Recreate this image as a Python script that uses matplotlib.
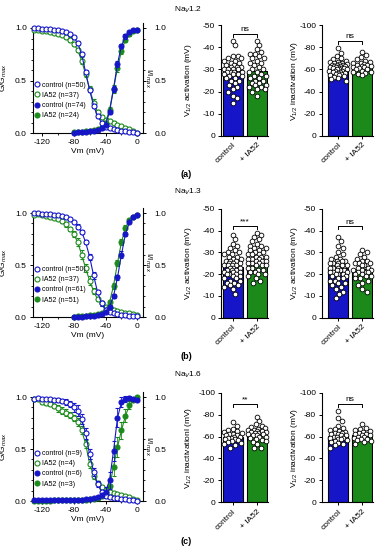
import matplotlib
matplotlib.use("Agg")
import matplotlib.pyplot as plt
from matplotlib.lines import Line2D
from matplotlib.ticker import MultipleLocator
import numpy as np

plt.rcParams['font.family'] = ['Liberation Sans', 'DejaVu Sans']
plt.rcParams['axes.unicode_minus'] = False
plt.rcParams['mathtext.fontset'] = 'custom'
plt.rcParams['mathtext.rm'] = 'Liberation Sans'
plt.rcParams['mathtext.it'] = 'Liberation Sans:italic'

BLUE = '#1616c8'
GREEN = '#1b8a1b'

# ---------------- data: voltage protocols ----------------
V_inact = [-130, -125, -120, -115, -110, -105, -100, -95, -90, -85, -80, -75, -70, -65,
           -60, -55, -50, -45, -40, -35, -30, -25, -20, -15, -10, -5, 0]
V_act80 = [-80, -75, -70, -65, -60, -55, -50, -45, -40, -35, -30, -25, -20, -15, -10, -5, 0]
V_act130 = V_inact

# ---------------- NaV1.2 ----------------
a_inact_ctrl = [1.00, 1.00, 0.99, 0.99, 0.99, 0.98, 0.98, 0.97, 0.96, 0.94, 0.91, 0.86, 0.75, 0.58,
                0.41, 0.26, 0.16, 0.10, 0.06, 0.05, 0.04, 0.03, 0.02, 0.02, 0.01, 0.01, 0.00]
a_inact_ctrl_err = [0, 0, 0, 0, 0, 0, 0, 0, 0.01, 0.01, 0.01, 0.02, 0.02, 0.02, 0.02, 0.02, 0.02,
                    0.01, 0.01, 0.01, 0.01, 0.01, 0, 0, 0, 0, 0]
a_inact_ia52 = [0.98, 0.98, 0.97, 0.97, 0.96, 0.95, 0.94, 0.93, 0.91, 0.89, 0.85, 0.79, 0.69, 0.56,
                0.42, 0.29, 0.20, 0.15, 0.12, 0.11, 0.10, 0.08, 0.07, 0.05, 0.04, 0.02, 0.00]
a_inact_ia52_err = [0, 0, 0.01, 0.01, 0.01, 0.01, 0.01, 0.01, 0.01, 0.02, 0.02, 0.02, 0.03, 0.03,
                    0.03, 0.03, 0.02, 0.02, 0.02, 0.01, 0.01, 0.01, 0.01, 0.01, 0.01, 0, 0]
a_act_ctrl = [0.00, 0.01, 0.01, 0.01, 0.02, 0.02, 0.03, 0.05, 0.08, 0.20, 0.42, 0.66, 0.83, 0.92,
              0.96, 0.98, 0.98]
a_act_ctrl_err = [0, 0, 0, 0, 0, 0, 0.01, 0.01, 0.01, 0.02, 0.03, 0.03, 0.02, 0.02, 0.01, 0.01, 0]
a_act_ia52 = [0.01, 0.01, 0.01, 0.02, 0.02, 0.03, 0.04, 0.06, 0.10, 0.22, 0.42, 0.62, 0.78, 0.89,
              0.94, 0.97, 0.98]
a_act_ia52_err = [0, 0, 0, 0, 0, 0.01, 0.01, 0.01, 0.02, 0.03, 0.04, 0.04, 0.03, 0.02, 0.02, 0.01, 0]
a_labels = ['control (n=50)', 'IA52 (n=37)', 'control (n=74)', 'IA52 (n=24)']

# ---------------- NaV1.3 ----------------
b_inact_ctrl = [1.00, 1.00, 0.99, 0.99, 0.99, 0.98, 0.98, 0.97, 0.96, 0.94, 0.91, 0.87, 0.82, 0.72,
                0.58, 0.40, 0.24, 0.13, 0.07, 0.05, 0.04, 0.03, 0.02, 0.02, 0.01, 0.01, 0.01]
b_inact_ctrl_err = [0, 0, 0, 0, 0, 0, 0, 0.01, 0.01, 0.01, 0.01, 0.02, 0.02, 0.02, 0.03, 0.03,
                    0.02, 0.02, 0.01, 0.01, 0.01, 0, 0, 0, 0, 0, 0]
b_inact_ia52 = [0.98, 0.99, 0.98, 0.97, 0.96, 0.95, 0.94, 0.92, 0.89, 0.85, 0.80, 0.72, 0.60, 0.47,
                0.35, 0.25, 0.17, 0.13, 0.10, 0.09, 0.07, 0.06, 0.05, 0.04, 0.04, 0.03, 0.02]
b_inact_ia52_err = [0, 0, 0.01, 0.01, 0.01, 0.01, 0.01, 0.02, 0.02, 0.02, 0.03, 0.04, 0.04, 0.04,
                    0.04, 0.03, 0.02, 0.02, 0.01, 0.01, 0.01, 0.01, 0.01, 0.01, 0, 0, 0]
b_act_ctrl = [0.00, 0.00, 0.00, 0.01, 0.01, 0.01, 0.02, 0.03, 0.05, 0.10, 0.20, 0.38, 0.60, 0.80,
              0.91, 0.96, 0.98]
b_act_ctrl_err = [0, 0, 0, 0, 0, 0, 0, 0.01, 0.01, 0.01, 0.02, 0.02, 0.03, 0.02, 0.01, 0.01, 0]
b_act_ia52 = [0.00, 0.01, 0.01, 0.01, 0.02, 0.02, 0.03, 0.04, 0.07, 0.14, 0.30, 0.52, 0.72, 0.86,
              0.93, 0.96, 0.98]
b_act_ia52_err = [0, 0, 0, 0, 0, 0, 0.01, 0.01, 0.01, 0.02, 0.03, 0.03, 0.03, 0.02, 0.01, 0.01, 0]
b_labels = ['control (n=50)', 'IA52 (n=37)', 'control (n=61)', 'IA52 (n=51)']

# ---------------- NaV1.6 ----------------
c_inact_ctrl = [0.98, 0.99, 0.98, 0.98, 0.98, 0.97, 0.97, 0.96, 0.95, 0.93, 0.90, 0.87, 0.79, 0.65,
                0.45, 0.28, 0.16, 0.09, 0.05, 0.04, 0.03, 0.03, 0.02, 0.02, 0.01, 0.01, 0.00]
c_inact_ctrl_err = [0.01, 0.01, 0.01, 0.01, 0.01, 0.02, 0.02, 0.02, 0.03, 0.03, 0.04, 0.05, 0.05,
                    0.05, 0.05, 0.04, 0.03, 0.02, 0.02, 0.01, 0.01, 0.01, 0.01, 0.01, 0.01, 0.01, 0]
c_inact_ia52 = [0.98, 0.98, 0.95, 0.94, 0.93, 0.91, 0.89, 0.87, 0.85, 0.83, 0.80, 0.76, 0.68, 0.55,
                0.36, 0.24, 0.17, 0.13, 0.11, 0.09, 0.08, 0.07, 0.06, 0.05, 0.04, 0.02, 0.01]
c_inact_ia52_err = [0.01, 0.01, 0.02, 0.02, 0.02, 0.02, 0.03, 0.03, 0.03, 0.03, 0.03, 0.04, 0.04,
                    0.04, 0.04, 0.03, 0.02, 0.02, 0.02, 0.01, 0.01, 0.01, 0.01, 0.01, 0.01, 0.01, 0]
c_act_ctrl = [0.01, 0.01, 0.01, 0.01, 0.01, 0.01, 0.01, 0.01, 0.01, 0.01, 0.01, 0.01, 0.01, 0.02,
              0.02, 0.03, 0.04, 0.06, 0.09, 0.20, 0.48, 0.80, 0.95, 0.98, 0.99, 0.98, 0.97]
c_act_ctrl_err = [0.01, 0.01, 0.01, 0.01, 0.01, 0.01, 0.01, 0.01, 0.01, 0.01, 0.01, 0.01, 0.01,
                  0.01, 0.01, 0.01, 0.01, 0.02, 0.04, 0.08, 0.10, 0.09, 0.05, 0.03, 0.02, 0.01, 0.01]
c_act_ia52 = [0.00, 0.00, 0.00, 0.00, 0.00, 0.01, 0.01, 0.01, 0.01, 0.01, 0.01, 0.01, 0.01, 0.01,
              0.02, 0.02, 0.03, 0.05, 0.08, 0.14, 0.33, 0.52, 0.68, 0.82, 0.92, 0.97, 1.00]
c_act_ia52_err = [0.01, 0.01, 0.01, 0.01, 0.01, 0.01, 0.01, 0.01, 0.01, 0.01, 0.01, 0.01, 0.01,
                  0.01, 0.01, 0.01, 0.01, 0.02, 0.04, 0.06, 0.09, 0.10, 0.08, 0.06, 0.04, 0.02, 0.01]
c_labels = ['control (n=9)', 'IA52 (n=4)', 'control (n=6)', 'IA52 (n=3)']

# ---------------- bar panels (V1/2 values, mV) ----------------
bar_categories = ['control', '+ IA52']

a1_means = [-29.8, -29.1]
a1_sems = [0.8, 1.0]
a1_ctrl = [-43, -41, -36, -36, -35, -35, -34, -34, -33, -33, -32, -32, -31, -31, -31, -30, -30, -30,
           -30, -29, -29, -29, -29, -28, -28, -28, -27, -27, -26, -26, -25, -25, -24, -23, -22, -21,
           -20, -18, -17, -15]
a1_ia52 = [-43, -41, -39, -38, -37, -37, -36, -35, -35, -34, -33, -33, -32, -31, -30, -30, -29, -29,
           -28, -27, -27, -26, -26, -25, -25, -24, -24, -23, -23, -22, -22, -21, -21, -20, -18]

a2_means = [-62.5, -62.8]
a2_sems = [0.8, 0.9]
a2_ctrl = [-79, -75, -72, -70, -69, -68, -67, -67, -66, -66, -65, -65, -64, -64, -64, -63, -63, -63,
           -62, -62, -62, -61, -61, -61, -60, -60, -60, -59, -59, -59, -58, -58, -57, -57, -56, -56,
           -55, -55, -54, -53, -52, -51, -50]
a2_ia52 = [-76, -73, -71, -69, -68, -67, -66, -66, -65, -64, -64, -63, -63, -62, -62, -61, -60, -60,
           -59, -58, -58, -57, -56, -55]

b1_means = [-23.2, -26.5]
b1_sems = [0.8, 0.8]
b1_ctrl = [-38, -36, -34, -33, -32, -31, -30, -30, -29, -29, -28, -28, -27, -27, -26, -26, -26, -25,
           -25, -25, -24, -24, -24, -24, -23, -23, -23, -22, -22, -22, -21, -21, -21, -20, -20, -20,
           -19, -19, -18, -18, -17, -17, -16, -16, -15, -15, -14, -13, -11]
b1_ia52 = [-39, -38, -37, -36, -35, -34, -33, -33, -32, -32, -31, -31, -30, -30, -29, -29, -29, -28,
           -28, -28, -27, -27, -27, -26, -26, -26, -25, -25, -25, -24, -24, -24, -23, -23, -22, -22,
           -21, -21, -20, -20, -19, -18, -17, -16]

b2_means = [-22.6, -22.2]
b2_sems = [0.9, 0.8]
b2_ctrl = [-37, -35, -33, -32, -30, -29, -28, -27, -27, -26, -26, -26, -25, -25, -25, -24, -24, -24,
           -23, -23, -23, -22, -22, -22, -21, -21, -21, -20, -20, -20, -19, -19, -18, -18, -17, -17,
           -16, -16, -15, -14, -13, -12, -11, -9]
b2_ia52 = [-31, -30, -29, -28, -27, -26, -26, -25, -25, -25, -24, -24, -23, -23, -22, -22, -22, -21,
           -21, -21, -20, -20, -19, -19, -18, -18, -17, -16, -15, -13, -12]

c1_means = [-59.3, -61.1]
c1_sems = [1.0, 1.0]
c1_ctrl = [-73, -70, -67, -66, -65, -64, -63, -62, -62, -61, -61, -60, -60, -59, -59, -58, -58, -57,
           -56, -55, -54, -53, -52, -50]
c1_ia52 = [-78, -74, -71, -70, -69, -68, -67, -66, -66, -65, -65, -64, -64, -63, -63, -62, -62, -61,
           -61, -60, -60, -59, -58, -57, -56, -55, -53, -50, -50]

c2_means = [-60.5, -61.0]
c2_sems = [1.2, 1.0]
c2_ctrl = [-83, -77, -74, -70, -68, -67, -66, -65, -64, -63, -63, -62, -62, -61, -61, -60, -60, -59,
           -59, -58, -58, -57, -56, -55, -54, -53, -52, -50]
c2_ia52 = [-71, -68, -67, -66, -65, -64, -63, -62, -62, -61, -61, -60, -60, -59, -58, -58, -57, -56,
           -55, -53]

# ---------------- figure ----------------
W, H = 383, 550
fig = plt.figure(figsize=(W / 100, H / 100), dpi=100)

TICK_FS = 6
LBL_FS = 6


def left_panel(rect, inact_ctrl, inact_ctrl_err, inact_ia, inact_ia_err,
               V_act, act_ctrl, act_ctrl_err, act_ia, act_ia_err, labels):
    ax = fig.add_axes(rect)
    common = dict(ms=3.6, mew=0.8, lw=0.8, elinewidth=0.6, capsize=1.2, capthick=0.6, clip_on=False)
    ax.errorbar(V_inact, inact_ia, yerr=inact_ia_err, fmt='-o', color=GREEN, mfc='white', mec=GREEN,
                zorder=3, **common)
    ax.errorbar(V_inact, inact_ctrl, yerr=inact_ctrl_err, fmt='-o', color=BLUE, mfc='white', mec=BLUE,
                zorder=4, **common)
    ax.errorbar(V_act, act_ia, yerr=act_ia_err, fmt='-o', color=GREEN, mfc=GREEN, mec=GREEN,
                zorder=3, **common)
    ax.errorbar(V_act, act_ctrl, yerr=act_ctrl_err, fmt='-o', color=BLUE, mfc=BLUE, mec=BLUE,
                zorder=4, **common)
    ax.set_xlim(-131, 7)
    ax.set_ylim(0, 1.05)
    ax.set_xticks([-120, -80, -40, 0])
    ax.xaxis.set_minor_locator(MultipleLocator(20))
    ax.set_yticks([0, 0.5, 1.0])
    ax.yaxis.set_minor_locator(MultipleLocator(0.1))
    ax.spines['top'].set_visible(False)
    ax.spines['right'].set_visible(False)
    ax.spines['left'].set_bounds(0, 1.0)
    for s in ('left', 'bottom'):
        ax.spines[s].set_linewidth(0.8)
    ax.tick_params(which='major', length=2.5, width=0.7, labelsize=TICK_FS, pad=2)
    ax.tick_params(which='minor', length=1.5, width=0.6)
    ax.set_xlabel('Vm (mV)', fontsize=LBL_FS, labelpad=1)
    ax.set_ylabel('G/G$_{max}$', fontsize=LBL_FS)
    ax.yaxis.set_label_coords(-0.215, 0.5)

    tw = ax.twinx()
    tw.set_ylim(0, 1.05)
    tw.set_yticks([0, 0.5, 1.0])
    tw.yaxis.set_minor_locator(MultipleLocator(0.1))
    for s in ('top', 'left', 'bottom'):
        tw.spines[s].set_visible(False)
    tw.spines['right'].set_linewidth(0.8)
    tw.tick_params(which='major', length=2.5, width=0.7, labelsize=TICK_FS, pad=6)
    tw.tick_params(which='minor', length=1.5, width=0.6)
    tw.set_ylabel('I/I$_{max}$', fontsize=LBL_FS, rotation=270, va='center')
    tw.yaxis.set_label_coords(1.045, 0.5)

    handles = [
        Line2D([], [], ls='none', marker='o', ms=3.6, mew=0.8, mfc='white', mec=BLUE),
        Line2D([], [], ls='none', marker='o', ms=3.6, mew=0.8, mfc='white', mec=GREEN),
        Line2D([], [], ls='none', marker='o', ms=3.6, mew=0.8, mfc=BLUE, mec=BLUE),
        Line2D([], [], ls='none', marker='o', ms=3.6, mew=0.8, mfc=GREEN, mec=GREEN),
    ]
    leg = ax.legend(handles, labels, loc='upper left', bbox_to_anchor=(0.018, 0.465),
                    frameon=False, fontsize=5, handlelength=0.6, handletextpad=0.45,
                    labelspacing=0.45, borderpad=0, borderaxespad=0)
    leg.set_zorder(10)
    return ax


def swarm_offsets(vals, ax, maxhalf_px, d_px=5.0):
    pos = ax.get_position()
    xl = ax.get_xlim()
    yl = ax.get_ylim()
    px_x = pos.width * W / (xl[1] - xl[0])
    px_y = pos.height * H / abs(yl[1] - yl[0])
    ys = np.array(vals, dtype=float) * px_y
    order = np.argsort(ys)
    xs = np.zeros(len(ys))
    placed = []
    for i in order:
        y = ys[i]
        chosen = None
        for d in (d_px, 0.85 * d_px, 0.7 * d_px, 0.5 * d_px, 0.3 * d_px):
            nb = [(xp, yp) for xp, yp in placed if abs(yp - y) < d]
            cands = [0.0]
            for xp, yp in nb:
                dx = np.sqrt(max(d * d - (yp - y) ** 2, 0))
                cands += [xp + dx, xp - dx]
            cands.sort(key=abs)
            for c in cands:
                if abs(c) > maxhalf_px:
                    continue
                if all((c - xp) ** 2 + (y - yp) ** 2 >= d * d * 0.999 for xp, yp in nb):
                    chosen = c
                    break
            if chosen is not None:
                break
        if chosen is None:
            chosen = 0.0
        xs[i] = chosen
        placed.append((chosen, y))
    return xs / px_x


def bar_panel(rect, xlim, ymax, ystep, means, sems, ctrl, ia, ylabel, ylabel_x, sig, sig_y):
    ax = fig.add_axes(rect)
    ax.set_xlim(*xlim)
    ax.set_ylim(0, ymax)
    x = [0, 1]
    ax.bar(x, means, width=0.83, color=[BLUE, GREEN], edgecolor='black', linewidth=0.8, zorder=1)
    ax.errorbar([0], [means[0]], yerr=[sems[0]], fmt='none', ecolor='#9aa6ff', elinewidth=0.8,
                capsize=2.5, capthick=0.8, zorder=2)
    ax.errorbar([1], [means[1]], yerr=[sems[1]], fmt='none', ecolor='#8fd08f', elinewidth=0.8,
                capsize=2.5, capthick=0.8, zorder=2)
    for xi, pts in zip(x, (ctrl, ia)):
        off = swarm_offsets(pts, ax, maxhalf_px=9.0)
        ax.plot(xi + off, pts, ls='none', marker='o', ms=3.4, mfc='white', mec='black', mew=0.6,
                zorder=3, clip_on=False)
    ax.plot([0, 0, 1, 1], [sig_y + abs(ymax) * 0.03, sig_y, sig_y, sig_y + abs(ymax) * 0.03],
            color='black', lw=0.7, zorder=4, clip_on=False)
    ax.text(0.5, sig_y - abs(ymax) * 0.005, sig, ha='center', va='bottom', fontsize=6,
            clip_on=False)
    ax.set_yticks(list(range(0, int(ymax) - 1, int(ystep))))
    ax.set_xticks(x)
    ax.set_xticklabels(bar_categories, rotation=45, ha='right', va='top', rotation_mode='anchor')
    ax.spines['top'].set_visible(False)
    ax.spines['right'].set_visible(False)
    for s in ('left', 'bottom'):
        ax.spines[s].set_linewidth(0.8)
    ax.tick_params(length=2.5, width=0.7, labelsize=TICK_FS, pad=1.5)
    ax.set_ylabel(ylabel, fontsize=LBL_FS)
    ax.yaxis.set_label_coords(ylabel_x, 0.5)
    return ax


LX, LW = 33 / W, 110 / W
C1X, C1W = 220.7 / W, 47.3 / W
C2X, C2W = 321.7 / W, 51.3 / W

rows = [
    dict(left_rect=[LX, (H - 133) / H, LW, 110.25 / H],
         bar_bottom=(H - 136) / H, bar_h=111 / H,
         left=(a_inact_ctrl, a_inact_ctrl_err, a_inact_ia52, a_inact_ia52_err,
               V_act80, a_act_ctrl, a_act_ctrl_err, a_act_ia52, a_act_ia52_err, a_labels),
         b1=(-50, -10, a1_means, a1_sems, a1_ctrl, a1_ia52, 'V$_{1/2}$ activation (mV)', 'ns', -46),
         b2=(-100, -20, a2_means, a2_sems, a2_ctrl, a2_ia52, 'V$_{1/2}$ inactivation (mV)', 'ns', -86),
         title='Na$_V$1.2', ty=9.5, tag='(a)', tagy=174.3),
    dict(left_rect=[LX, (H - 317) / H, LW, 109.2 / H],
         bar_bottom=(H - 317.7) / H, bar_h=109 / H,
         left=(b_inact_ctrl, b_inact_ctrl_err, b_inact_ia52, b_inact_ia52_err,
               V_act80, b_act_ctrl, b_act_ctrl_err, b_act_ia52, b_act_ia52_err, b_labels),
         b1=(-50, -10, b1_means, b1_sems, b1_ctrl, b1_ia52, 'V$_{1/2}$ activation (mV)', '***', -42),
         b2=(-50, -10, b2_means, b2_sems, b2_ctrl, b2_ia52, 'V$_{1/2}$ activation (mV)', 'ns', -42),
         title='Na$_V$1.3', ty=192.3, tag='(b)', tagy=356.7),
    dict(left_rect=[LX, (H - 501) / H, LW, 109.2 / H],
         bar_bottom=(H - 502.3) / H, bar_h=109.6 / H,
         left=(c_inact_ctrl, c_inact_ctrl_err, c_inact_ia52, c_inact_ia52_err,
               V_act130, c_act_ctrl, c_act_ctrl_err, c_act_ia52, c_act_ia52_err, c_labels),
         b1=(-100, -20, c1_means, c1_sems, c1_ctrl, c1_ia52, 'V$_{1/2}$ inactivationl (mV)', '**', -90),
         b2=(-100, -20, c2_means, c2_sems, c2_ctrl, c2_ia52, 'V$_{1/2}$ inactivation (mV)', 'ns', -90),
         title='Na$_V$1.6', ty=375, tag='(c)', tagy=541.7),
]

for r in rows:
    left_panel(r['left_rect'], *r['left'])
    ymax, ystep, m, s, c, i, yl, sig, sy = r['b1']
    bar_panel([C1X, r['bar_bottom'], C1W, r['bar_h']], (-0.5, 1.46), ymax, ystep, m, s, c, i,
              yl, -0.56, sig, sy)
    ymax, ystep, m, s, c, i, yl, sig, sy = r['b2']
    bar_panel([C2X, r['bar_bottom'], C2W, r['bar_h']], (-0.7, 1.46), ymax, ystep, m, s, c, i,
              yl, -0.42, sig, sy)
    fig.text(0.49, 1 - r['ty'] / H, r['title'], ha='center', va='center', fontsize=6)
    fig.text(0.487, 1 - r['tagy'] / H, r['tag'], ha='center', va='center', fontsize=6.5,
             fontweight='bold')

fig.savefig('out.png', dpi=100)
